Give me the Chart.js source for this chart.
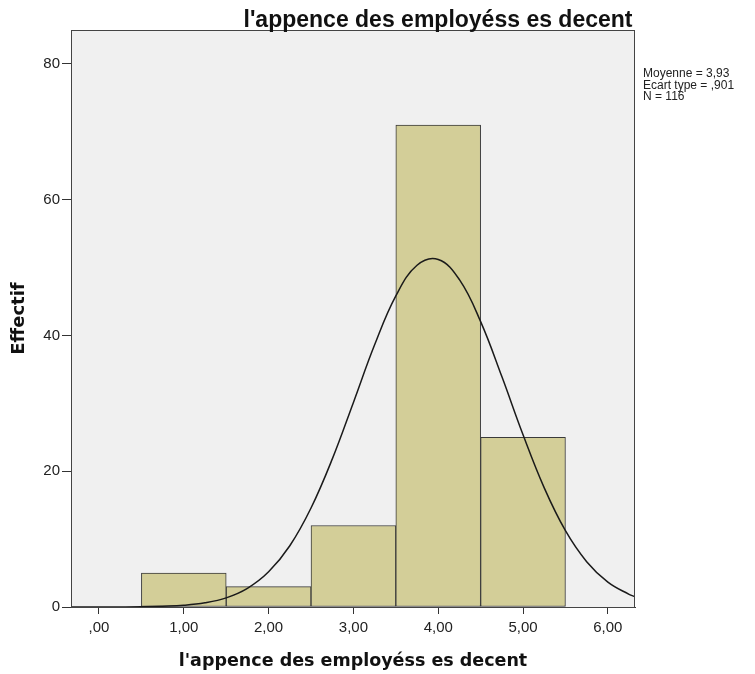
<!DOCTYPE html>
<html>
<head>
<meta charset="utf-8">
<script src="https://cdn.jsdelivr.net/npm/chart.js@4"></script>
<style>
  body { margin: 0; background: #fff; }
  #wrap { width: 755px; height: 674px; }
</style>
</head>
<body>
<div id="wrap"><canvas id="histo" width="755" height="674"></canvas></div>
<script>
// histogram bins (centre of each bin) and counts
const binCenters = [1, 2, 3, 4, 5];
const binCounts = [5, 3, 12, 71, 25];

// normal curve
const curveX = [-0.33, 0, 0.25, 0.5, 0.75, 1, 1.25, 1.5, 1.75, 2, 2.25, 2.5, 2.75, 3, 3.25, 3.5, 3.75, 4, 4.25, 4.5, 4.75, 5, 5.25, 5.5, 5.75, 6, 6.25, 6.32];
const curveY = [0, 0.004, 0.013, 0.04, 0.12, 0.26, 0.62, 1.35, 2.75, 5.18, 9.02, 14.58, 21.78, 30.14, 38.62, 45.83, 50.34, 51.2, 48.22, 42.04, 33.95, 25.37, 17.55, 11.24, 6.68, 3.67, 1.87, 1.52];

const xTicks = [0, 1, 2, 3, 4, 5, 6];
const yTicks = [0, 20, 40, 60, 80];

const chartTitle = "l'appence des employéss es decent";
const xTitle = "l'appence des employéss es decent";
const yTitle = 'Effectif';
const statsLines = ['Moyenne = 3,93', 'Ecart type = ,901', 'N = 116'];

function frText(v) {
    // SPSS style: ,00 / 1,00
    let s = v.toFixed(2).replace('.', ',');
    if (s.startsWith('0,')) s = s.substring(1);
    return s;
}

const spssLook = {
    id: 'spssLook',
    beforeDraw(chart) {
        const a = chart.chartArea;
        const ctx = chart.ctx;
        ctx.save();
        ctx.fillStyle = '#f0f0f0';
        ctx.fillRect(a.left, a.top, a.right - a.left, a.bottom - a.top);
        ctx.restore();
    },
    afterDraw(chart) {
        const a = chart.chartArea;
        const ctx = chart.ctx;
        ctx.save();
        ctx.strokeStyle = '#444';
        ctx.lineWidth = 1;
        ctx.strokeRect(a.left + 0.5, a.top + 0.5, a.right - a.left - 1, a.bottom - a.top);

        ctx.fillStyle = '#111';
        ctx.font = 'bold 23px "Liberation Sans", Arial, sans-serif';
        ctx.textAlign = 'center';
        ctx.textBaseline = 'alphabetic';
        ctx.fillText(chartTitle, 438, 27);

        ctx.font = '12px "Liberation Sans", Arial, sans-serif';
        ctx.textAlign = 'left';
        ctx.textBaseline = 'middle';
        ctx.fillStyle = '#222';
        statsLines.forEach((t, i) => {
            ctx.fillText(t, 643, 74 + i * 11.5);
        });
        ctx.restore();
    }
};

const ctx = document.getElementById('histo').getContext('2d');
const histo = new Chart(ctx, {
    data: {
        datasets: [{
            type: 'line',
            data: curveX.map((x, i) => ({ x: x, y: curveY[i] })),
            borderColor: '#1a1a1a',
            borderWidth: 1.5,
            pointRadius: 0,
            tension: 0.4,
            order: 0
        }, {
            type: 'bar',
            data: binCenters.map((x, i) => ({ x: x, y: binCounts[i] })),
            backgroundColor: '#d3ce98',
            borderColor: '#3a3a3a',
            borderWidth: 1,
            borderSkipped: false,
            barPercentage: 1,
            categoryPercentage: 1,
            order: 1
        }]
    },
    options: {
        responsive: false,
        animation: false,
        layout: { padding: { left: 0, right: 120, top: 30, bottom: 0 } },
        plugins: {
            legend: { display: false },
            tooltip: { enabled: false }
        },
        scales: {
            x: {
                type: 'linear',
                offset: false,
                min: -0.33,
                max: 6.32,
                afterBuildTicks: s => { s.ticks = xTicks.map(v => ({ value: v })); },
                afterFit: s => { s.height = 67; },
                grid: { offset: false, drawOnChartArea: false, tickLength: 7, tickColor: '#333', tickWidth: 1 },
                border: { color: '#333', width: 1 },
                ticks: {
                    callback: v => frText(v),
                    color: '#222',
                    padding: 5,
                    maxRotation: 0,
                    font: { family: '"Liberation Sans", Arial, sans-serif', size: 15 }
                },
                title: {
                    display: true,
                    text: xTitle,
                    color: '#111',
                    padding: { top: 8, bottom: 2 },
                    font: { family: '"DejaVu Sans", sans-serif', size: 17.5, weight: 'bold' }
                }
            },
            y: {
                min: 0,
                max: 85,
                afterBuildTicks: s => { s.ticks = yTicks.map(v => ({ value: v })); },
                afterFit: s => { s.width = 71; },
                grid: { drawOnChartArea: false, tickLength: 9, tickColor: '#333', tickWidth: 1 },
                border: { color: '#333', width: 1 },
                ticks: {
                    color: '#222',
                    padding: 2,
                    font: { family: '"Liberation Sans", Arial, sans-serif', size: 15 }
                },
                title: {
                    display: true,
                    text: yTitle,
                    color: '#111',
                    padding: { top: 9, bottom: 0 },
                    font: { family: '"DejaVu Sans", sans-serif', size: 18, weight: 'bold' }
                }
            }
        }
    },
    plugins: [spssLook]
});
</script>
</body>
</html>
